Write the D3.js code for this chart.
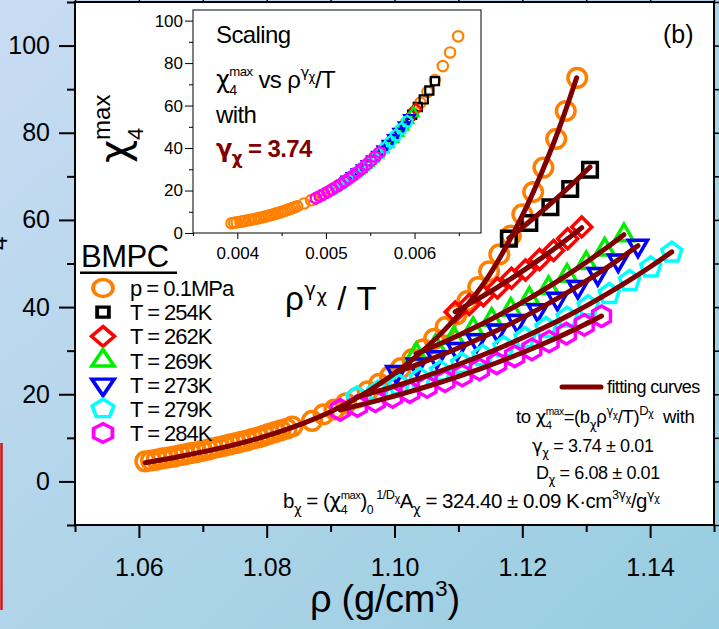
<!DOCTYPE html>
<html>
<head>
<meta charset="utf-8">
<script src="https://cdn.jsdelivr.net/npm/d3@7/dist/d3.min.js"></script>
<style>
  html, body { margin: 0; padding: 0; background: #fff; overflow: hidden; }
  svg { display: block; }
  text { white-space: pre; }
</style>
</head>
<body>
<svg id="chart" width="719" height="629"></svg>
<script>
// ---------------- data ----------------
// Isobar p = 0.1 MPa: density (g/cm3) and chi4 max
const isobarRho = [1.0610, 1.0619, 1.0628, 1.0637, 1.0646, 1.0655, 1.0664, 1.0672, 1.0681, 1.0690,
  1.0699, 1.0708, 1.0716, 1.0725, 1.0734, 1.0743, 1.0752, 1.0760, 1.0769, 1.0778,
  1.0787, 1.0796, 1.0804, 1.0813, 1.0822, 1.0831, 1.0840,
  1.0871, 1.0889, 1.0906, 1.0924, 1.0941, 1.0958, 1.0976, 1.0993, 1.1010, 1.1028,
  1.1045, 1.1062, 1.1080, 1.1097, 1.1114, 1.1131, 1.1148, 1.1164, 1.1182, 1.1200,
  1.1217, 1.1233, 1.1253, 1.1268, 1.1286];
const isobarChi = [4.6, 4.8, 5.0, 5.3, 5.5, 5.7, 6.0, 6.2, 6.5, 6.7,
  7.0, 7.3, 7.6, 7.9, 8.2, 8.5, 8.8, 9.1, 9.4, 9.8,
  10.1, 10.5, 10.9, 11.3, 11.7, 12.1, 12.6,
  13.9, 15.4, 16.5, 17.9, 19.2, 20.7, 22.4, 24.1, 26.0, 28.1,
  30.3, 32.7, 35.4, 38.3, 41.4, 44.6, 48.2, 52.1, 56.4, 61.3,
  66.4, 72.0, 78.6, 85.0, 92.6];
// rho^gamma / T of the isobar points (inset abscissa)
const isobarScaledX = [0.003935, 0.003965, 0.003995, 0.004035, 0.004062, 0.004088, 0.004125, 0.004150, 0.004185, 0.004208,
  0.004240, 0.004271, 0.004300, 0.004329, 0.004356, 0.004383, 0.004408, 0.004433, 0.004456, 0.004487,
  0.004509, 0.004538, 0.004566, 0.004593, 0.004620, 0.004645, 0.004676,
  0.004753, 0.004833, 0.004888, 0.004954, 0.005012, 0.005074, 0.005141, 0.005203, 0.005268, 0.005336,
  0.005402, 0.005470, 0.005542, 0.005614, 0.005687, 0.005757, 0.005831, 0.005906, 0.005983, 0.006066,
  0.006146, 0.006229, 0.006319, 0.006401, 0.006492];
// fitted curve along the isobar
const isobarFitRho = [1.0610, 1.0660, 1.0720, 1.0780, 1.0840, 1.0900, 1.0960, 1.1020, 1.1080, 1.1140, 1.1200, 1.1250, 1.1285];
const isobarFitChi = [4.3, 5.6, 7.4, 9.6, 12.4, 16.0, 20.8, 27.0, 35.0, 45.5, 61.0, 78.0, 92.6];

// Isotherms
const isothermT = [254, 262, 269, 273, 279, 284];
const rho254 = [1.1179, 1.1211, 1.1244, 1.1275, 1.1306];
const chi254 = [55.7, 59.3, 62.9, 67.1, 71.5];
const rho262 = [1.1095, 1.1117, 1.1139, 1.1161, 1.1183, 1.1205, 1.1227, 1.1249, 1.1271, 1.1293];
const chi262 = [38.9, 40.6, 42.6, 44.4, 46.6, 48.5, 50.9, 53.0, 55.7, 58.4];
const rho269 = [1.1034, 1.1064, 1.1093, 1.1123, 1.1152, 1.1182, 1.1211, 1.1241, 1.1270, 1.1300, 1.1329, 1.1359];
const chi269 = [29.2, 31.0, 32.9, 35.0, 37.1, 39.4, 41.9, 44.4, 47.2, 50.1, 53.2, 56.5];
const rho273 = [1.1003, 1.1035, 1.1066, 1.1098, 1.1129, 1.1161, 1.1192, 1.1224, 1.1255, 1.1287, 1.1318, 1.1350, 1.1381];
const chi273 = [25.1, 26.8, 28.5, 30.4, 32.4, 34.6, 36.8, 39.3, 41.9, 44.6, 47.6, 50.7, 54.1];
const rho279 = [1.0941, 1.0974, 1.1007, 1.1040, 1.1072, 1.1105, 1.1138, 1.1171, 1.1204, 1.1237, 1.1270, 1.1303, 1.1336, 1.1368, 1.1401, 1.1434];
const chi279 = [19.3, 20.6, 22.1, 23.6, 25.2, 27.0, 28.8, 30.8, 32.9, 35.2, 37.6, 40.2, 43.0, 46.0, 49.1, 52.5];
const rho284 = [1.0915, 1.0942, 1.0970, 1.0997, 1.1024, 1.1051, 1.1079, 1.1106, 1.1133, 1.1160, 1.1188, 1.1215, 1.1242, 1.1269, 1.1297, 1.1324];
const chi284 = [16.4, 17.3, 18.4, 19.4, 20.5, 21.7, 23.0, 24.3, 25.7, 27.1, 28.7, 30.3, 32.1, 33.9, 35.9, 37.9];

// Fit parameters: chi4max = (b * rho^gamma / T)^D
const gammaChi = 3.74;
const Dchi = 6.08;
const bChi = 324.40;

// Legend / styling lists
const legendLabels = ["p = 0.1MPa", "T = 254K", "T = 262K", "T = 269K", "T = 273K", "T = 279K", "T = 284K"];
const seriesColors = ["#ff8000", "#000000", "#ff0000", "#00ee00", "#0000ff", "#00ffff", "#ff00ff"];
const seriesShapes = ["circle", "square", "diamond", "triangleUp", "triangleDown", "pentagon", "hexagon"];

// Ticks
const xTicksMain = [1.06, 1.08, 1.10, 1.12, 1.14];
const xMinorMain = [1.05, 1.07, 1.09, 1.11, 1.13, 1.15];
const yTicksMain = [0, 20, 40, 60, 80, 100];
const yMinorMain = [-10, 10, 30, 50, 70, 90, 110];
const xTicksInset = [0.004, 0.005, 0.006];
const xMinorInset = [0.0035, 0.0045, 0.0055, 0.0065];
const yTicksInset = [0, 20, 40, 60, 80, 100];
const yMinorInset = [10, 30, 50, 70, 90];

// ---------------- setup ----------------
const FONT = "'Liberation Sans', Arial, Helvetica, sans-serif";
const GREEK = "'DejaVu Sans', 'Liberation Sans', sans-serif";
const FIT = "#800000";
const W = 719, H = 629;
const svg = d3.select("#chart");

const defs = svg.append("defs");
const grad = defs.append("linearGradient").attr("id", "bg")
  .attr("x1", 0).attr("y1", 0).attr("x2", 1).attr("y2", 1);
grad.append("stop").attr("offset", 0).attr("stop-color", "#c9dcf3");
grad.append("stop").attr("offset", 1).attr("stop-color", "#97cde0");
svg.append("rect").attr("width", W).attr("height", H).attr("fill", "url(#bg)");

// marker geometry
function polyPath(n, r, a0) {
  const pts = d3.range(n).map(i => {
    const a = a0 + i * 2 * Math.PI / n;
    return [r * Math.cos(a), r * Math.sin(a)];
  });
  return "M" + pts.map(p => p[0].toFixed(2) + "," + p[1].toFixed(2)).join("L") + "Z";
}
function shapePath(shape, s) {
  switch (shape) {
    case "circle": return `M${-s},0A${s},${s} 0 1,0 ${s},0A${s},${s} 0 1,0 ${-s},0Z`;
    case "square": return `M${-s},${-s}H${s}V${s}H${-s}Z`;
    case "diamond": return polyPath(4, s, -Math.PI / 2);
    case "triangleUp": return polyPath(3, s, -Math.PI / 2);
    case "triangleDown": return polyPath(3, s, Math.PI / 2);
    case "pentagon": return polyPath(5, s, -Math.PI / 2);
    case "hexagon": return polyPath(6, s, -Math.PI / 2);
  }
}
const markerSize = { circle: 9.3, square: 7.3, diamond: 10, triangleUp: 11, triangleDown: 11, pentagon: 10.5, hexagon: 10.3 };
const legendSize = { circle: 8.5, square: 5, diamond: 9.8, triangleUp: 11, triangleDown: 11, pentagon: 9.7, hexagon: 9.3 };

// rich text with sub/superscripts: parts = [text, sizeScale, baselineShift(em), stackOnPrevious]
function rich(parent, x, y, base, parts, opt = {}) {
  const t = parent.append("text").attr("x", x).attr("y", y)
    .attr("font-family", FONT).attr("font-size", base).attr("fill", opt.fill || "#000");
  if (opt.weight) t.attr("font-weight", opt.weight);
  if (opt.ls != null) t.attr("letter-spacing", opt.ls);
  if (opt.transform) t.attr("transform", opt.transform);
  let cur = 0, prev = null;
  parts.forEach(p => {
    const [txt, scale = 1, shift = 0, back = false] = p;
    const sh = shift * base;
    const ts = t.append("tspan").attr("font-size", base * scale).attr("dy", sh - cur).text(txt);
    if (/^[γχ]+$/.test(txt)) ts.attr("font-family", GREEK);
    if (back && prev) ts.attr("dx", -prev.node().getComputedTextLength());
    cur = sh; prev = ts;
  });
  return t;
}

function axisStyle(g, fs, sw) {
  g.attr("font-family", FONT).attr("font-size", fs);
  g.select(".domain").remove();
  g.selectAll(".tick line").attr("stroke", "#000").attr("stroke-width", sw);
  g.selectAll(".tick text").attr("fill", "#000");
}

// series table built from the arrays
const isoRho = [rho254, rho262, rho269, rho273, rho279, rho284];
const isoChi = [chi254, chi262, chi269, chi273, chi279, chi284];
const fitModel = (r, T) => Math.pow(bChi * Math.pow(r, gammaChi) / T, Dchi);
const series = [{ rho: isobarRho, chi: isobarChi, sx: isobarScaledX }].concat(
  isothermT.map((T, i) => ({
    rho: isoRho[i], chi: isoChi[i], T: T,
    sx: isoRho[i].map(r => Math.pow(r, gammaChi) / T)
  }))
).map((s, i) => Object.assign(s, { color: seriesColors[i], shape: seriesShapes[i], label: legendLabels[i] }));

// ---------------- main plot ----------------
const x = d3.scaleLinear().domain([1.05, 1.15]).range([75, 714]);
const y = d3.scaleLinear().domain([-10, 110]).range([525, 2]);

svg.append("rect").attr("x", 75).attr("y", 2).attr("width", 639).attr("height", 523).attr("fill", "#fff");

// stray edge marks at the far left
svg.append("line").attr("x1", 1.5).attr("x2", 1.5).attr("y1", 443).attr("y2", 610)
  .attr("stroke", "#e01010").attr("stroke-width", 2.5);
rich(svg, 0, 0, 40, [["χ"], ["4", 0.6, 0.41], ["max", 0.6, -0.45, true]], { transform: "translate(-9,273) rotate(-90)" });

// axes
const gx = svg.append("g").attr("transform", "translate(0,525)")
  .call(d3.axisBottom(x).tickValues(xTicksMain).tickFormat(d3.format(".2f")).tickSize(13).tickPadding(20).tickSizeOuter(0));
axisStyle(gx, 25, 2);
const gx2 = svg.append("g").attr("transform", "translate(0,525)")
  .call(d3.axisBottom(x).tickValues(xMinorMain).tickFormat("").tickSize(7).tickSizeOuter(0));
axisStyle(gx2, 25, 2);
const gy = svg.append("g").attr("transform", "translate(75,0)")
  .call(d3.axisLeft(y).tickValues(yTicksMain).tickSize(16).tickPadding(9).tickSizeOuter(0));
axisStyle(gy, 25, 2);
const gy2 = svg.append("g").attr("transform", "translate(75,0)")
  .call(d3.axisLeft(y).tickValues(yMinorMain).tickFormat("").tickSize(8).tickSizeOuter(0));
axisStyle(gy2, 25, 2);
const gt = svg.append("g").attr("transform", "translate(0,2)")
  .call(d3.axisTop(x).tickValues(xTicksMain.concat(xMinorMain)).tickFormat("").tickSize(6).tickSizeOuter(0));
axisStyle(gt, 10, 1.5);
const gr = svg.append("g").attr("transform", "translate(714,0)")
  .call(d3.axisRight(y).tickValues(yTicksMain.concat(yMinorMain)).tickFormat("").tickSize(6).tickSizeOuter(0));
axisStyle(gr, 10, 1.5);

// data markers
const gMain = svg.append("g");
series.forEach(s => {
  gMain.append("g").selectAll("path").data(s.rho.map((r, i) => [r, s.chi[i]])).join("path")
    .attr("d", shapePath(s.shape, markerSize[s.shape]))
    .attr("transform", d => `translate(${x(d[0])},${y(d[1])})`)
    .attr("fill", "none").attr("stroke", s.color).attr("stroke-width", 3.5)
    .attr("stroke-linejoin", "miter");
});

// fitting curves
const lineMain = d3.line().x(d => x(d[0])).y(d => y(d[1]));
gMain.append("path")
  .attr("d", lineMain.curve(d3.curveCatmullRom)(isobarFitRho.map((r, i) => [r, isobarFitChi[i]])))
  .attr("fill", "none").attr("stroke", FIT).attr("stroke-width", 5).attr("stroke-linecap", "round");
series.slice(1).forEach(s => {
  gMain.append("path")
    .attr("d", lineMain.curve(d3.curveMonotoneX)(s.rho.map(r => [r, fitModel(r, s.T)])))
    .attr("fill", "none").attr("stroke", FIT).attr("stroke-width", 5).attr("stroke-linecap", "round");
});

// frame
svg.append("rect").attr("x", 75).attr("y", 2).attr("width", 639).attr("height", 523)
  .attr("fill", "none").attr("stroke", "#000").attr("stroke-width", 2);

// axis titles and panel tag
rich(svg, 310, 612, 38, [["ρ (g/cm"], ["3", 0.6, -0.42], [")", 1, 0]], { ls: -0.3 });
svg.append("text").attr("x", 663).attr("y", 43).attr("font-family", FONT).attr("font-size", 25).text("(b)");

// legend
svg.append("text").attr("x", 81).attr("y", 267).attr("font-family", FONT).attr("font-size", 31)
  .attr("letter-spacing", -0.5).text("BMPC");
svg.append("rect").attr("x", 80).attr("y", 271.5).attr("width", 97).attr("height", 2.5).attr("fill", "#000");
const legY = d3.scaleLinear().domain([0, 6]).range([288, 433]);
series.forEach((s, i) => {
  svg.append("path").attr("d", shapePath(s.shape, legendSize[s.shape]))
    .attr("transform", `translate(103,${legY(i)}) scale(1.17,1)`)
    .attr("fill", "none").attr("stroke", s.color).attr("stroke-width", 3.3);
  svg.append("text").attr("x", 130).attr("y", legY(i) + 8).attr("font-family", FONT)
    .attr("font-size", 22).attr("letter-spacing", -1).text(s.label);
});

// fitting-curve key and parameters
svg.append("line").attr("x1", 562).attr("x2", 601).attr("y1", 387).attr("y2", 387)
  .attr("stroke", FIT).attr("stroke-width", 5).attr("stroke-linecap", "round");
svg.append("text").attr("x", 607).attr("y", 393).attr("font-family", FONT).attr("font-size", 18)
  .attr("letter-spacing", -0.6).text("fitting curves");
rich(svg, 516, 423, 18.5, [["to "], ["χ"], ["4", 0.6, 0.3], ["max", 0.55, -0.45, true], ["=(b", 1, 0], ["χ", 0.65, 0.3],
  ["ρ", 1, 0], ["γ", 0.62, -0.42], ["χ", 0.5, -0.28], ["/T)", 1, 0], ["D", 0.7, -0.45], ["χ", 0.55, -0.3], ["  with", 1, 0]], { ls: -0.4 });
rich(svg, 532, 452, 18, [["γ"], ["χ", 0.65, 0.3], [" = 3.74 ± 0.01", 1, 0]], { ls: -0.4 });
rich(svg, 536, 479, 18, [["D"], ["χ", 0.65, 0.3], [" = 6.08 ± 0.01", 1, 0]], { ls: -0.4 });
rich(svg, 283, 508, 20.5, [["b"], ["χ", 0.65, 0.3], [" = (", 1, 0], ["χ", 1, 0], ["4", 0.6, 0.3], ["max", 0.55, -0.45, true],
  [")", 1, 0], ["0", 0.6, 0.3], [" 1/D", 0.62, -0.45], ["χ", 0.5, -0.3], ["A", 1, 0], ["χ", 0.65, 0.3],
  [" = 324.40 ± 0.09 K·cm", 1, 0], ["3", 0.62, -0.45], ["γ", 0.62, -0.45], ["χ", 0.5, -0.3], ["/g", 1, 0], ["γ", 0.62, -0.45], ["χ", 0.5, -0.3]], { ls: -0.5 });

// ---------------- inset ----------------
const xi = d3.scaleLinear().domain([0.0035, 0.00675]).range([193, 481]);
const yi = d3.scaleLinear().domain([0, 105]).range([233, 10]);
const gIn = svg.append("g");
gIn.append("rect").attr("x", 193).attr("y", 10).attr("width", 288).attr("height", 223).attr("fill", "#fff");

const gix = gIn.append("g").attr("transform", "translate(0,233)")
  .call(d3.axisBottom(xi).tickValues(xTicksInset).tickFormat(d3.format(".3f")).tickSize(6).tickPadding(8).tickSizeOuter(0));
axisStyle(gix, 17, 1);
const gix2 = gIn.append("g").attr("transform", "translate(0,233)")
  .call(d3.axisBottom(xi).tickValues(xMinorInset).tickFormat("").tickSize(3).tickSizeOuter(0));
axisStyle(gix2, 17, 1);
const giy = gIn.append("g").attr("transform", "translate(193,0)")
  .call(d3.axisLeft(yi).tickValues(yTicksInset).tickSize(8).tickPadding(2).tickSizeOuter(0));
axisStyle(giy, 17, 1);
const giy2 = gIn.append("g").attr("transform", "translate(193,0)")
  .call(d3.axisLeft(yi).tickValues(yMinorInset).tickFormat("").tickSize(4).tickSizeOuter(0));
axisStyle(giy2, 17, 1);

series.forEach(s => {
  gIn.append("g").selectAll("path").data(s.sx.map((v, i) => [v, s.chi[i]])).join("path")
    .attr("d", shapePath(s.shape, markerSize[s.shape] * 0.56))
    .attr("transform", d => `translate(${xi(d[0])},${yi(d[1])})`)
    .attr("fill", "none").attr("stroke", s.color).attr("stroke-width", 2.2);
});

gIn.append("rect").attr("x", 193).attr("y", 10).attr("width", 288).attr("height", 223)
  .attr("fill", "none").attr("stroke", "#000").attr("stroke-width", 1);

// inset annotations
gIn.append("text").attr("x", 216).attr("y", 43).attr("font-family", FONT).attr("font-size", 24)
  .attr("letter-spacing", -0.6).text("Scaling");
rich(gIn, 216, 88, 24, [["χ"], ["4", 0.6, 0.3], ["max", 0.55, -0.5, true], [" vs ρ", 1, 0], ["γ", 0.62, -0.45], ["χ", 0.5, -0.3], ["/T", 1, 0]], { ls: -0.6 });
gIn.append("text").attr("x", 216).attr("y", 123).attr("font-family", FONT).attr("font-size", 24)
  .attr("letter-spacing", -0.6).text("with");
rich(gIn, 216, 157, 24, [["γ"], ["χ", 0.7, 0.28], [" = 3.74", 1, 0]], { fill: FIT, weight: "bold", ls: -0.6 });

// inset axis titles
rich(gIn, 285, 310, 33, [["ρ"], ["γ", 0.6, -0.42], ["χ", 0.55, -0.25], [" / T", 1, 0]], { ls: 0.5 });
rich(gIn, 0, 0, 40, [["χ"], ["4", 0.55, 0.37], ["max", 0.6, -0.45, true]], { transform: "translate(128,163) rotate(-90)" });
</script>
</body>
</html>
